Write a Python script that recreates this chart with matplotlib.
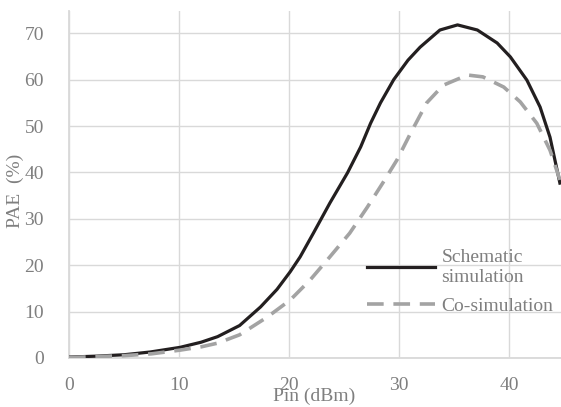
import matplotlib
matplotlib.use("Agg")
import matplotlib.pyplot as plt

# values
pin_schematic = [0, 2.5, 5, 7.4, 10.1, 12, 13.5, 15.5, 17.4, 18.9, 20.1, 21, 22.2, 23.7,
                 25.3, 26.5, 27.4, 28.3, 29.5, 30.8, 31.9, 33.7, 35.3, 37.1, 38.9, 40.1,
                 41.6, 42.8, 43.7, 44.6]
pae_schematic = [0.2, 0.4, 0.7, 1.3, 2.3, 3.4, 4.6, 7.0, 11.0, 14.8, 18.6, 21.8, 26.9, 33.4,
                 39.9, 45.5, 50.6, 55.0, 60.0, 64.2, 67.0, 70.7, 71.8, 70.7, 67.9, 64.9,
                 59.9, 54.1, 47.6, 37.7]

pin_cosim = [0, 2.5, 5, 7.5, 10.1, 12, 13.5, 15.5, 18, 20.1, 21.9, 23.7, 25.5, 27.1,
             28.5, 29.8, 31.0, 32.5, 34.0, 36.2, 37.6, 39.5, 41.0, 42.5, 43.7, 44.6]
pae_cosim = [0.1, 0.3, 0.5, 0.9, 1.7, 2.4, 3.2, 5.0, 8.8, 12.5, 16.8, 21.8, 26.9, 32.5,
             37.7, 42.7, 48.3, 55.0, 58.8, 61.0, 60.6, 58.4, 55.2, 50.6, 44.8, 38.4]

x_ticks = [0, 10, 20, 30, 40]
y_ticks = [0, 10, 20, 30, 40, 50, 60, 70]

plt.rcParams['font.family'] = ['Liberation Serif', 'DejaVu Serif']
plt.rcParams['lines.scale_dashes'] = False

fig = plt.figure(figsize=(5.61, 4.07), dpi=100)
ax = fig.add_axes([0.123, 0.1204, 0.877, 0.8526])

grid_col = '#d9d9d9'
text_col = '#7f7f7f'

ax.plot(pin_schematic, pae_schematic, color='#231f20', lw=2.3,
        label='Schematic\nsimulation', zorder=3, solid_joinstyle='round')
ax.plot(pin_cosim, pae_cosim, color='#a3a3a3', lw=2.6, dashes=(12, 7),
        label='Co-simulation', zorder=3)

ax.set_xlim(0, 44.7)
ax.set_ylim(0, 74.8)
ax.set_xticks(x_ticks)
ax.set_yticks(y_ticks)
ax.grid(True, color=grid_col, lw=1)
ax.set_axisbelow(True)
ax.tick_params(length=0, labelsize=14, labelcolor=text_col)
ax.tick_params(axis='y', pad=18)
ax.tick_params(axis='x', pad=14)
for side in ['top', 'right']:
    ax.spines[side].set_visible(False)
for side in ['left', 'bottom']:
    ax.spines[side].set_color(grid_col)
    ax.spines[side].set_linewidth(1.3)

fig.text(0.56, 0.025, 'Pin (dBm)', ha='center', va='center', fontsize=14, color=text_col)
fig.text(0.027, 0.53, 'PAE  (%)', ha='center', va='center', rotation=90,
         fontsize=14, color=text_col)

leg = ax.legend(loc='upper left', bbox_to_anchor=(0.605, 0.315), frameon=False,
                fontsize=14, handlelength=3.5, handletextpad=0.35,
                labelspacing=0.6, borderpad=0, borderaxespad=0)
for t in leg.get_texts():
    t.set_color(text_col)
    t.set_linespacing(1.25)

fig.savefig('out.png', dpi=100)
